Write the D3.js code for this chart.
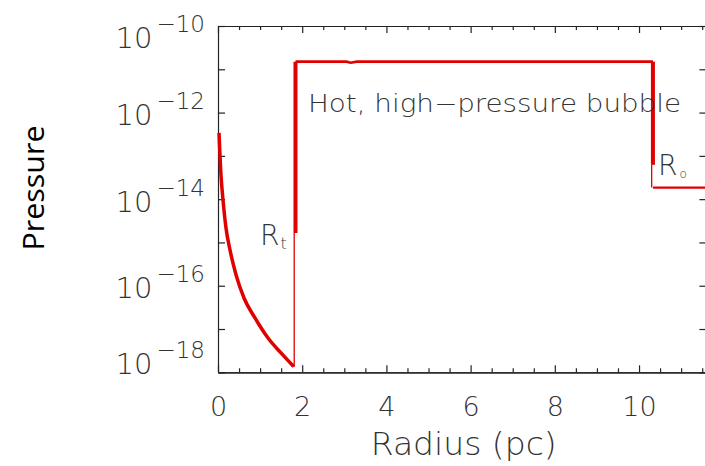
<!DOCTYPE html>
<html>
<head>
<meta charset="utf-8">
<script src="https://cdn.jsdelivr.net/npm/d3@7"></script>
<style>
  body { margin: 0; background: #fff; }
  svg text { font-family: "DejaVu Sans", sans-serif; font-weight: 200; fill: #333; }
</style>
</head>
<body>
<svg id="chart" width="705" height="466"></svg>
<script>
// free wind (inside the termination shock)
const windR = [0.024, 0.071, 0.119, 0.19, 0.285, 0.428, 0.618, 0.879, 1.188, 1.496, 1.80];
const windP = [3.4e-13, 3.6e-14, 9.6e-15, 2.15e-15, 6.7e-16, 1.8e-16, 5.2e-17, 1.8e-17, 6.2e-18, 2.8e-18, 1.35e-18];

// hot bubble plateau
const bubbleR = [1.84, 3.05, 3.15, 3.3, 10.33];
const bubbleP = [1.5e-11, 1.5e-11, 1.42e-11, 1.5e-11, 1.5e-11];

// ambient medium outside R_o
const ambientR = [10.33, 11.6];
const ambientP = [1.85e-14, 1.85e-14];

// the two jumps (R_t, R_o): thick and thin parts
const jumpR = [1.84, 10.33];
const jumpThickP = [[1.66e-15, 1.5e-11], [6.2e-14, 1.5e-11]];
const jumpThinP = [[1.35e-18, 1.66e-15], [1.85e-14, 6.2e-14]];

// axes
const xMajor = [0, 2, 4, 6, 8, 10];
const xMinor = d3.range(0, 11.6, 0.5);
const yExponents = [-18, -17, -16, -15, -14, -13, -12, -11, -10];
const yLabelled = [-18, -16, -14, -12, -10];

const svg = d3.select("#chart");
svg.append("rect").attr("width", 705).attr("height", 466).attr("fill", "#fff");

const x = d3.scaleLinear().domain([0, 11.6]).range([218, 706.4]);
const y = d3.scaleLog().domain([1e-18, 1e-10]).range([372.3, 26]);
const red = "#e10000";

const line = d3.line().x((d) => x(d[0])).y((d) => y(d[1]));

// axes
function styleAxis(g) {
  g.attr("color", "#222");
  g.selectAll("path, line").attr("stroke-width", 1.2);
}

const yTicks = yExponents.map((e) => Math.pow(10, e));

const gLeft = svg.append("g").attr("transform", `translate(${x(0)},0)`)
  .call(d3.axisLeft(y).tickValues(yTicks).tickSizeInner(-7).tickSizeOuter(0).tickPadding(13).tickFormat(""))
  .call(styleAxis);

gLeft.selectAll(".tick").each(function (d) {
  const e = Math.round(Math.log10(d));
  if (!yLabelled.includes(e)) return;
  const off = e === -10 ? 21 : e === -18 ? 1 : 12;
  const t = d3.select(this).select("text").attr("dy", null).attr("y", off);
  t.append("tspan").style("font-size", "29px").text("10");
  t.append("tspan").attr("dx", 4).attr("dy", -16).style("font-size", "23px").text("\u2212" + Math.abs(e));
});

svg.append("g").attr("transform", `translate(${x.range()[1]},0)`)
  .call(d3.axisRight(y).tickValues(yTicks).tickSizeInner(-7).tickSizeOuter(0).tickFormat(""))
  .call(styleAxis);

const gBottom = svg.append("g").attr("transform", `translate(0,${y(1e-18)})`)
  .call(d3.axisBottom(x).tickValues(xMajor).tickSizeInner(-7).tickSizeOuter(0).tickFormat(d3.format("d")))
  .call(styleAxis);
gBottom.selectAll("text").attr("dy", null).attr("y", 44).style("font-size", "27px");

svg.append("g").attr("transform", `translate(0,${y(1e-18)})`)
  .call(d3.axisBottom(x).tickValues(xMinor.filter((v) => v % 2)).tickSizeInner(-4).tickSizeOuter(0).tickFormat(""))
  .call(styleAxis);

svg.append("g").attr("transform", `translate(0,${y(1e-10)})`)
  .call(d3.axisTop(x).tickValues(xMajor).tickSizeInner(-7).tickSizeOuter(0).tickFormat(""))
  .call(styleAxis);
svg.append("g").attr("transform", `translate(0,${y(1e-10)})`)
  .call(d3.axisTop(x).tickValues(xMinor.filter((v) => v % 2)).tickSizeInner(-4).tickSizeOuter(0).tickFormat(""))
  .call(styleAxis);

// axis titles
svg.append("text")
  .attr("x", 463.7).attr("y", 455)
  .attr("text-anchor", "middle")
  .attr("textLength", 186).attr("lengthAdjust", "spacingAndGlyphs")
  .style("font-size", "32px")
  .text("Radius (pc)");

svg.append("text")
  .attr("transform", "translate(43.5,188) rotate(-90)")
  .attr("text-anchor", "middle")
  .attr("textLength", 125).attr("lengthAdjust", "spacingAndGlyphs")
  .style("font-family", "'Open Sans', 'Noto Sans', sans-serif")
  .style("font-weight", 400)
  .style("fill", "#000")
  .style("font-size", "30px")
  .text("Pressure");

// profile
const plot = svg.append("g").attr("fill", "none").attr("stroke", red);

plot.append("path")
  .attr("d", line.curve(d3.curveMonotoneX)(d3.zip(windR, windP)))
  .attr("stroke-width", 3.5);
line.curve(d3.curveLinear);

plot.append("path").attr("d", line(d3.zip(bubbleR, bubbleP))).attr("stroke-width", 2.6);
plot.append("path").attr("d", line(d3.zip(ambientR, ambientP))).attr("stroke-width", 2.4);

jumpR.forEach((r, i) => {
  plot.append("path")
    .attr("d", line(jumpThickP[i].map((p) => [r, p])))
    .attr("stroke-width", 4);
  plot.append("path")
    .attr("d", line(jumpThinP[i].map((p) => [r - 0.03, p])))
    .attr("stroke-width", 1.3);
});

// annotations
svg.append("text")
  .attr("x", 308).attr("y", 111.7)
  .attr("textLength", 373).attr("lengthAdjust", "spacingAndGlyphs")
  .style("font-size", "24px")
  .text("Hot, high\u2212pressure bubble");

const rt = svg.append("text").attr("x", 260).attr("y", 245);
rt.append("tspan").style("font-size", "28px").text("R");
rt.append("tspan").attr("dx", 1).attr("dy", 4).style("font-size", "16px").text("t");

const ro = svg.append("text").attr("x", 658).attr("y", 175);
ro.append("tspan").style("font-size", "28px").text("R");
ro.append("tspan").attr("dx", 2).attr("dy", 3).style("font-size", "12px").text("o");
</script>
</body>
</html>
